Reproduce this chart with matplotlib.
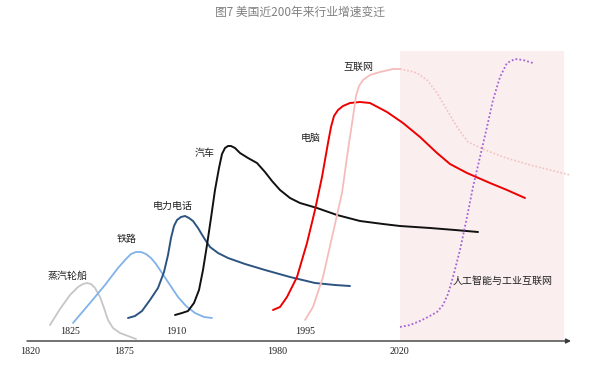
import matplotlib
matplotlib.use("Agg")
import matplotlib.pyplot as plt
from matplotlib.patches import Rectangle

plt.rcParams['font.family'] = ['Noto Sans CJK SC', 'DejaVu Sans']
plt.rcParams['lines.solid_joinstyle'] = 'round'
plt.rcParams['lines.solid_capstyle'] = 'round'

# ---- data (x: time position, y: relative growth above baseline) ----
BASE = 341.0

steam_x = [50, 60, 70, 78, 83, 87, 91, 95, 100, 104, 108, 113, 120, 128, 136]
steam_y = [325, 309, 295, 287, 284, 283, 284, 288, 297, 308, 320, 328, 333, 336, 339]

rail_x = [73, 90, 105, 118, 126, 131, 136, 141, 146, 151, 156, 162, 170, 178, 186, 195, 204, 212]
rail_y = [323, 303, 285, 268, 259, 254, 252, 252, 254, 258, 264, 273, 285, 297, 306, 313, 317, 318]

elec_x = [128, 135, 142, 150, 158, 164, 168, 171, 174, 177, 181, 185, 189, 193, 198, 204, 210, 218,
          228, 245, 265, 290, 315, 335, 350]
elec_y = [318, 316, 311, 300, 288, 272, 255, 238, 226, 220, 217, 216, 218, 221, 228, 238, 247, 253,
          258, 264, 270, 277, 283, 285, 286]

car_x = [175, 182, 188, 194, 199, 203, 207, 211, 215, 219, 222, 225, 228, 231, 235, 240, 248, 257,
         265, 272, 280, 290, 300, 317, 337, 360, 383, 400, 430, 455, 478]
car_y = [315, 313, 311, 303, 290, 270, 245, 218, 190, 168, 154, 148, 146, 146, 148, 153, 158, 163,
         172, 181, 190, 198, 203, 208, 215, 221, 224, 226, 228, 230, 232]

pc_x = [273, 280, 287, 297, 307, 315, 322, 328, 331, 334, 338, 343, 350, 360, 370, 387, 403, 420,
        437, 450, 467, 490, 507, 525]
pc_y = [310, 307, 297, 277, 243, 210, 177, 143, 127, 116, 110, 106, 103, 102, 103, 112, 123, 137,
        153, 164, 173, 183, 190, 198]

net_x = [305, 313, 323, 333, 342, 348, 353, 356, 359, 363, 370, 380, 393, 400]
net_y = [320, 307, 277, 233, 193, 150, 117, 96, 86, 80, 75, 72, 69, 69]

net_fut_x = [400, 410, 417, 427, 437, 447, 457, 468, 483, 503, 530, 570]
net_fut_y = [69, 71, 73, 80, 93, 110, 127, 142, 149, 157, 165, 175]

ai_x = [400, 410, 420, 428, 437, 443, 448, 453, 460, 467, 473, 480, 487, 493, 500, 507,
        515, 523, 533]
ai_y = [327, 325, 321, 317, 312, 305, 294, 277, 250, 217, 187, 157, 127, 100, 77, 63,
        59, 60, 63]

year_labels = ['1820', '1875', '1980', '2020']
year_pos = [30, 124, 277, 399]
start_labels = ['1825', '1910', '1995']
start_pos = [70, 176, 305]

names = ['蒸汽轮船', '铁路', '电力电话', '汽车', '电脑', '互联网', '人工智能与工业互联网']
name_x = [68, 127, 173, 205, 311, 358, 503]
name_y = [276, 239, 206, 153, 138, 67, 281]

future_start, future_end, future_top = 400, 564, 51


def g(ys):
    return [BASE - v for v in ys]


fig = plt.figure(figsize=(5.89, 3.68), dpi=100)
ax = fig.add_axes([0, 0, 1, 1])
ax.set_xlim(0, 589)
ax.set_ylim(BASE - 368, BASE)
ax.axis('off')

ax.add_patch(Rectangle((future_start, 0), future_end - future_start, BASE - future_top,
                       facecolor='#fbeeee', edgecolor='none', zorder=0))

ax.annotate('', xy=(571, 0), xytext=(27, 0),
            arrowprops=dict(arrowstyle='-|>', color='#3a3a3a', lw=1.0,
                            mutation_scale=7, shrinkA=0, shrinkB=0), zorder=1)

ax.plot(steam_x, g(steam_y), color='#c6c6c6', lw=1.3, zorder=2)
ax.plot(rail_x, g(rail_y), color='#80b2ea', lw=1.3, zorder=2)
ax.plot(elec_x, g(elec_y), color='#2d5381', lw=1.4, zorder=2)
ax.plot(car_x, g(car_y), color='#111111', lw=1.4, zorder=2)
ax.plot(pc_x, g(pc_y), color='#ee0000', lw=1.4, zorder=2)
ax.plot(net_x, g(net_y), color='#f6bcbc', lw=1.3, zorder=2)
ax.plot(net_fut_x, g(net_fut_y), color='#f5c0c0', lw=1.2, ls=(0, (1, 1.2)), zorder=2)
ax.plot(ai_x, g(ai_y), color='#a463d8', lw=1.3, ls=(0, (1, 1.2)), zorder=3)

serif = ['Liberation Serif', 'DejaVu Serif']
for t, x in zip(year_labels, year_pos):
    ax.text(x, BASE - 351, t, ha='center', va='center', fontsize=7.2, family=serif, color='#222')
for t, x in zip(start_labels, start_pos):
    ax.text(x, BASE - 332, t, ha='center', va='center', fontsize=7.2, family=serif, color='#222')
for t, x, y in zip(names, name_x, name_y):
    ax.text(x, BASE - y, t, ha='center', va='center', fontsize=7.2, color='#222')

ax.text(300, BASE - 12, '图7 美国近200年来行业增速变迁', ha='center', va='center',
        fontsize=8.5, color='#808080')

fig.savefig('out.png', dpi=100)
